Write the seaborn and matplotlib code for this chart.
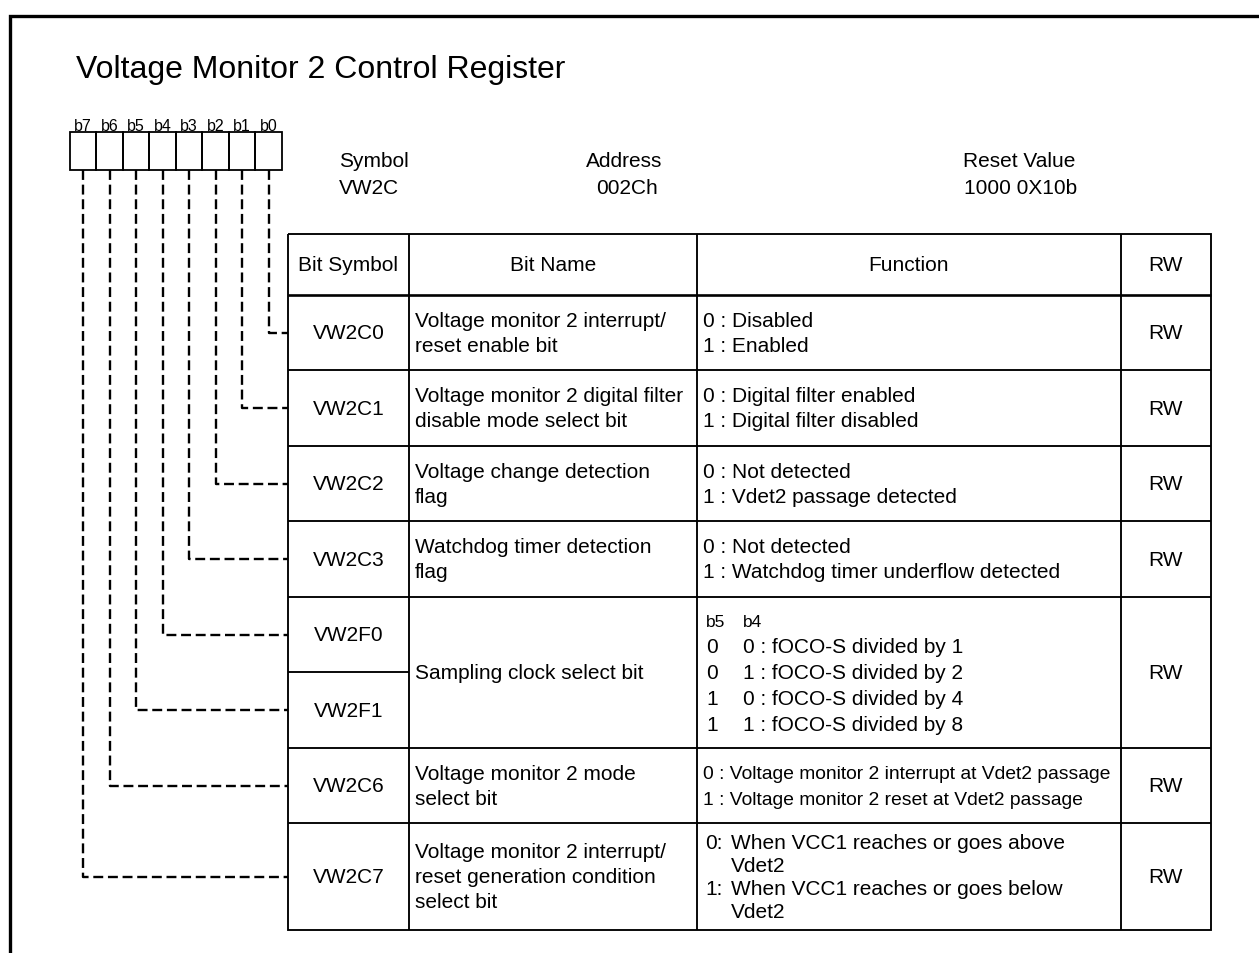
import matplotlib
matplotlib.use("Agg")
import matplotlib.pyplot as plt
import seaborn as sns

# register contents
title = "Voltage Monitor 2 Control Register"
bit_labels = ["b7", "b6", "b5", "b4", "b3", "b2", "b1", "b0"]
info_heads = ["Symbol", "Address", "Reset Value"]
info_values = ["VW2C", "002Ch", "1000 0X10b"]
table_heads = ["Bit Symbol", "Bit Name", "Function", "RW"]

bit_symbols = ["VW2C0", "VW2C1", "VW2C2", "VW2C3", "VW2F0", "VW2F1", "VW2C6", "VW2C7"]
bit_names = [
    ["Voltage monitor 2 interrupt/", "reset enable bit"],
    ["Voltage monitor 2 digital filter", "disable mode select bit"],
    ["Voltage change detection", "flag"],
    ["Watchdog timer detection", "flag"],
    ["Sampling clock select bit"],
    ["Voltage monitor 2 mode", "select bit"],
    ["Voltage monitor 2 interrupt/", "reset generation condition", "select bit"],
]
functions = [
    ["0 : Disabled", "1 : Enabled"],
    ["0 : Digital filter enabled", "1 : Digital filter disabled"],
    ["0 : Not detected", "1 : Vdet2 passage detected"],
    ["0 : Not detected", "1 : Watchdog timer underflow detected"],
    [("b5", "b4"), ("0", "0 : fOCO-S divided by 1"), ("0", "1 : fOCO-S divided by 2"),
     ("1", "0 : fOCO-S divided by 4"), ("1", "1 : fOCO-S divided by 8")],
    ["0 : Voltage monitor 2 interrupt at Vdet2 passage",
     "1 : Voltage monitor 2 reset at Vdet2 passage"],
    [("0:", "When VCC1 reaches or goes above"), ("", "Vdet2"),
     ("1:", "When VCC1 reaches or goes below"), ("", "Vdet2")],
]
access = ["RW", "RW", "RW", "RW", "RW", "RW", "RW"]
group_rows = [[0], [1], [2], [3], [4, 5], [6], [7]]

# layout (pixels, y downwards)
W, H = 1259, 954
row_edges = [296, 371, 447, 522, 598, 673, 749, 824, 931]
head_top = 235
col_x = [288, 409, 697, 1121, 1211]
box_x0, box_w, box_top, box_bot = 70, 26.5, 133, 171
func_size = [15, 15, 15, 15, 15, 13.9, 15]
func_pitch = [25, 25, 25, 25, 26, 26, 23]
func_x1 = [6, 6, 6, 6, 9, 6, 8]
func_x2 = [None, None, None, None, 46, None, 34]

sns.set_theme(style="white")
plt.rcParams["font.family"] = ["Liberation Sans", "DejaVu Sans"]
plt.rcParams["lines.solid_capstyle"] = "butt"

fig = plt.figure(figsize=(W / 100, H / 100), dpi=100)
ax = fig.add_axes([0, 0, 1, 1])
ax.set_xlim(0, W)
ax.set_ylim(H, 0)
ax.axis("off")

txt = dict(color="black", va="baseline")


def put_lines(x, cy, lines, size=15, pitch=25, x2=None, first_size=None):
    n = len(lines)
    for i, line in enumerate(lines):
        y = cy + 6 + (i - (n - 1) / 2) * pitch
        s = first_size if (first_size and i == 0) else size
        if isinstance(line, tuple):
            ax.text(x, y, line[0], fontsize=s, ha="left", **txt)
            ax.text(x2, y, line[1], fontsize=s, ha="left", **txt)
        else:
            ax.text(x, y, line, fontsize=s, ha="left", **txt)


# outer frame
ax.plot([10.5, 10.5, W], [H, 16.5, 16.5], color="black", lw=2.4,
        solid_joinstyle="miter")

ax.text(76, 78, title, fontsize=23, ha="left", **txt)

# bit boxes
for k, lab in enumerate(bit_labels):
    x = box_x0 + k * box_w
    ax.add_patch(plt.Rectangle((x, box_top), box_w, box_bot - box_top,
                               fill=False, ec="black", lw=1.3))
    ax.text(x + box_w / 2, 131, lab, fontsize=11.5, ha="center", **txt)

# symbol / address / reset value
ax.text(339, 167, info_heads[0], fontsize=15, ha="left", **txt)
ax.text(339, 194, info_values[0], fontsize=15, ha="left", **txt)
ax.text(624, 167, info_heads[1], fontsize=15, ha="center", **txt)
ax.text(627, 194, info_values[1], fontsize=15, ha="center", **txt)
ax.text(963, 167, info_heads[2], fontsize=15, ha="left", **txt)
ax.text(964, 194, info_values[2], fontsize=15, ha="left", **txt)

# table grid
lw = 1.35
bottom = row_edges[-1]
ax.plot([col_x[0], col_x[-1], col_x[-1], col_x[0], col_x[0]],
        [head_top, head_top, bottom, bottom, head_top], color="black", lw=lw,
        solid_joinstyle="miter")
for x in col_x[1:-1]:
    ax.plot([x, x], [head_top, bottom], color="black", lw=lw)
ax.plot([col_x[0], col_x[-1]], [row_edges[0], row_edges[0]], color="black", lw=1.9)
for g in group_rows[1:]:
    y = row_edges[g[0]]
    ax.plot([col_x[0], col_x[-1]], [y, y], color="black", lw=lw)
for g in group_rows:
    for r in g[1:]:
        y = row_edges[r]
        ax.plot([col_x[0], col_x[1]], [y, y], color="black", lw=lw)

# header
hc = (head_top + row_edges[0]) / 2
for c, head in enumerate(table_heads):
    ax.text((col_x[c] + col_x[c + 1]) / 2, hc + 6, head, fontsize=15, ha="center", **txt)

# bit symbols + dashed connectors
sym_cx = (col_x[0] + col_x[1]) / 2
for i, sym in enumerate(bit_symbols):
    cy = (row_edges[i] + row_edges[i + 1]) / 2
    ax.text(sym_cx, cy + 6, sym, fontsize=15, ha="center", **txt)
    bx = box_x0 + (7 - i + 0.5) * box_w
    ax.plot([bx, bx, col_x[0]], [box_bot, cy, cy], color="black", lw=1.7,
            ls=(0, (4.2, 2.0)), solid_joinstyle="miter")

# names, functions, access
for gi, g in enumerate(group_rows):
    cy = (row_edges[g[0]] + row_edges[g[-1] + 1]) / 2
    put_lines(col_x[1] + 6, cy, bit_names[gi])
    x2 = col_x[2] + func_x2[gi] if func_x2[gi] is not None else None
    put_lines(col_x[2] + func_x1[gi], cy, functions[gi], size=func_size[gi],
              pitch=func_pitch[gi], x2=x2,
              first_size=12.5 if gi == 4 else None)
    ax.text((col_x[3] + col_x[4]) / 2, cy + 6, access[gi], fontsize=15, ha="center", **txt)

fig.savefig("out.png", dpi=100)
